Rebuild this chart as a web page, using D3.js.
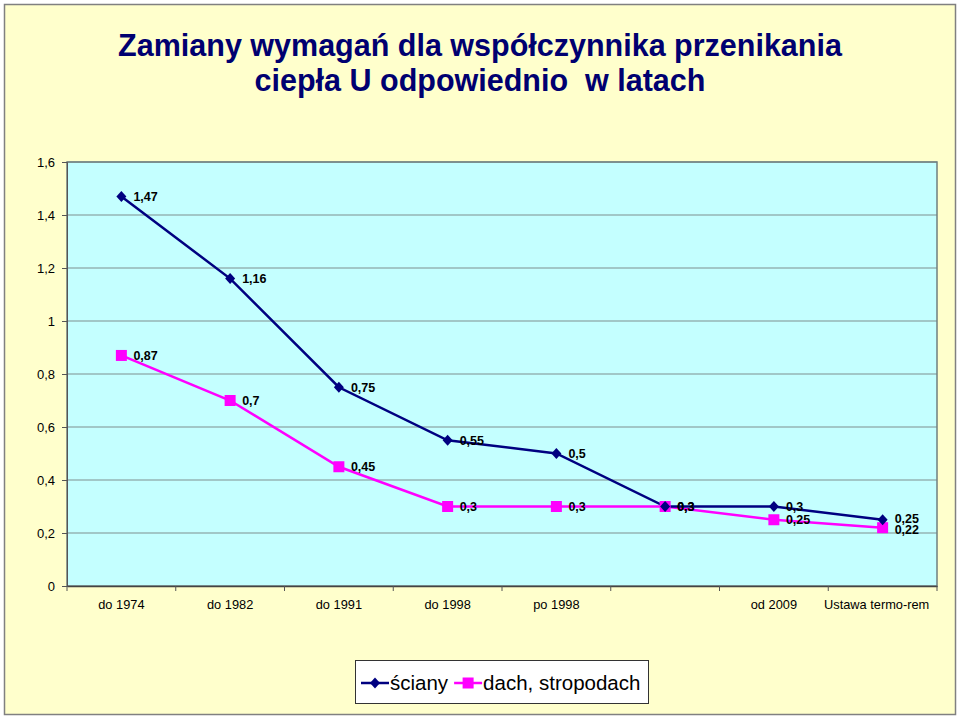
<!DOCTYPE html>
<html><head><meta charset="utf-8">
<script src="https://cdn.jsdelivr.net/npm/d3@7"></script>
<style>body{margin:0;background:#fff}svg{display:block}text{font-family:Arial,"Liberation Sans",sans-serif}</style>
</head><body>
<svg id="c" width="960" height="717"></svg>
<script>
const categories = ["do 1974","do 1982","do 1991","do 1998","po 1998","","od 2009","Ustawa termo-rem"];
const sciany = [1.47,1.16,0.75,0.55,0.5,0.3,0.3,0.25];
const dach = [0.87,0.7,0.45,0.3,0.3,0.3,0.25,0.22];
const yTicks = [0,0.2,0.4,0.6,0.8,1,1.2,1.4,1.6];
const seriesNames = ["ściany","dach, stropodach"];
const titleLines = ["Zamiany wymagań dla współczynnika przenikania","ciepła U odpowiednio  w latach"];

const svg = d3.select("#c");
svg.append("rect").attr("x",4.5).attr("y",4.5).attr("width",951).attr("height",710)
  .attr("fill","#FFFFCC").attr("stroke","#808080").attr("stroke-width",1.5);

const L=67,R=937,T=162,B=586;
const x = d3.scaleBand().domain(d3.range(categories.length)).range([L,R]);
const y = d3.scaleLinear().domain([0,1.6]).range([B,T]);
const fmt = v => String(v).replace(".",",");

svg.append("rect").attr("x",L).attr("y",T).attr("width",R-L).attr("height",B-T).attr("fill","#C4FFFF");
svg.append("g").selectAll("line").data(yTicks.filter(d=>d>0)).join("line")
  .attr("x1",L).attr("x2",R).attr("y1",d=>y(d)).attr("y2",d=>y(d))
  .attr("stroke","#7f8f8f").attr("stroke-width",1);
svg.append("rect").attr("x",L).attr("y",T).attr("width",R-L).attr("height",B-T)
  .attr("fill","none").attr("stroke","#6f7f7f").attr("stroke-width",1.5);

const ya = svg.append("g").attr("transform",`translate(${L},0)`)
  .call(d3.axisLeft(y).tickValues(yTicks).tickFormat(fmt).tickSize(5).tickPadding(7));
ya.select(".domain").attr("stroke","#555");
ya.selectAll(".tick line").attr("stroke","#555");
ya.selectAll("text").attr("font-size",13).attr("fill","#000").style("font-family","Arial");

const xa = svg.append("g").attr("transform",`translate(0,${B})`)
  .call(d3.axisBottom(x).tickFormat(i=>categories[i]).tickSize(0).tickPadding(14));
xa.select(".domain").attr("stroke","#444").attr("stroke-width",1.5);
xa.selectAll("text").attr("font-size",12.8).attr("fill","#000").style("font-family","Arial");
xa.selectAll(".tick").filter(i=>i===categories.length-1).select("text").attr("dx",-6);
svg.append("g").selectAll("line").data(d3.range(categories.length+1)).join("line")
  .attr("x1",i=>L+x.step()*i).attr("x2",i=>L+x.step()*i).attr("y1",B).attr("y2",B+5)
  .attr("stroke","#555");

const cx = i => x(i)+x.bandwidth()/2;
const line = d3.line().x((d,i)=>cx(i)).y(d=>y(d));
const series = [
  {name:seriesNames[0], vals:sciany, color:"#000080", shape:"diamond"},
  {name:seriesNames[1], vals:dach, color:"#FF00FF", shape:"square"}
];
function marker(g,s,px,py){
  if(s.shape==="diamond"){
    g.append("path").attr("d",`M${px},${py-5.5}L${px+5},${py}L${px},${py+5.5}L${px-5},${py}Z`).attr("fill",s.color);
  } else {
    g.append("rect").attr("x",px-5.5).attr("y",py-5.5).attr("width",11).attr("height",11).attr("fill",s.color);
  }
}
[series[1],series[0]].forEach(s=>{
  svg.append("path").datum(s.vals).attr("d",line).attr("fill","none")
    .attr("stroke",s.color).attr("stroke-width",2.5);
});
[series[1],series[0]].forEach(s=>{
  const g=svg.append("g");
  s.vals.forEach((v,i)=>marker(g,s,cx(i),y(v)));
});
series.forEach((s,k)=>{
  svg.append("g").selectAll("text").data(s.vals).join("text")
    .attr("x",(d,i)=>cx(i)+12).attr("y",(d,i)=>y(d) + (i===s.vals.length-1 ? (k===0?-1.5:1.5) : 0)).attr("dy","0.36em")
    .attr("font-size",12.5).attr("font-weight","bold").attr("fill","#000")
    .text(d=>fmt(d));
});

svg.append("text").attr("text-anchor","middle").style("white-space","pre")
  .attr("font-size",30.5).attr("font-weight","bold").attr("fill","#000070")
  .selectAll("tspan").data(titleLines).join("tspan")
  .attr("x",480).attr("y",(d,i)=>56+i*35).text(d=>d);

const lg = svg.append("g");
lg.append("rect").attr("x",355.5).attr("y",660.5).attr("width",293).attr("height",43)
  .attr("fill","#fff").attr("stroke","#333").attr("stroke-width",1);
let lx=361;
series.forEach((s,k)=>{
  const ly=683;
  lg.append("line").attr("x1",lx).attr("x2",lx+28).attr("y1",ly).attr("y2",ly).attr("stroke",s.color).attr("stroke-width",2.5);
  marker(lg,s,lx+14,ly);
  const t=lg.append("text").attr("x",lx+29).attr("y",ly).attr("dy","0.35em").attr("font-size",20.5).attr("fill","#000").text(s.name);
  lx += 29 + t.node().getComputedTextLength() + 6;
});
</script>
</body></html>
